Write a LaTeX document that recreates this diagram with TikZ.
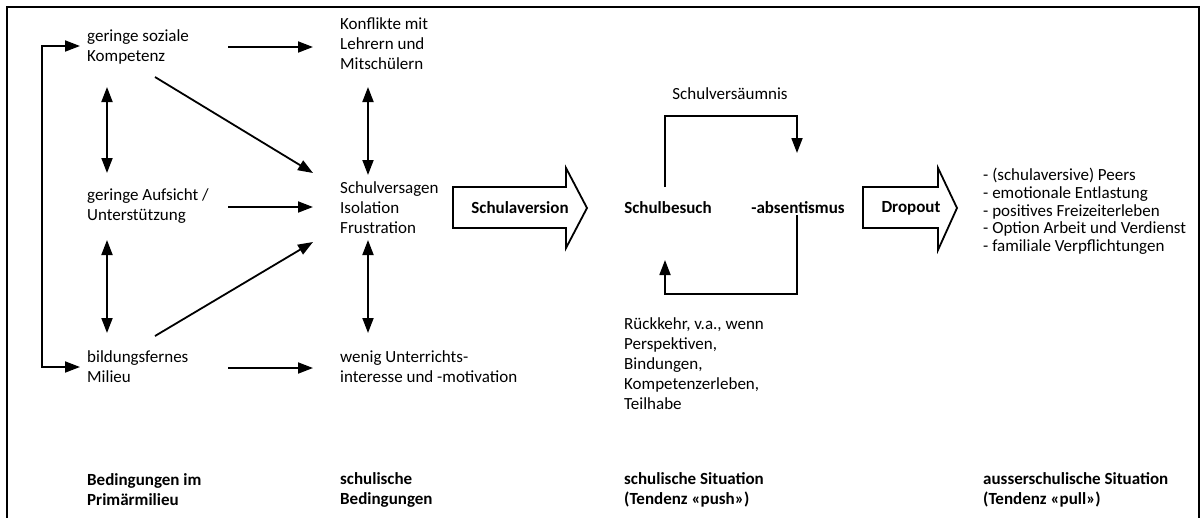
\documentclass[tikz,border=0pt]{standalone}
\usepackage{fontspec}
\setmainfont{Carlito}
\usetikzlibrary{arrows.meta,calc}
\tikzset{
  txt/.style={font=\fontsize{17}{20}\selectfont, inner sep=0pt, align=left, anchor=west},
  lbl/.style={txt, font=\fontsize{17}{20}\selectfont\bfseries},
  con/.style={line width=1.8pt, -{Triangle[length=15pt,width=11pt]}},
  dcon/.style={line width=1.8pt, {Triangle[length=15pt,width=11pt]}-{Triangle[length=15pt,width=11pt]}},
  blk/.style={draw, line width=1.8pt, fill=white, line join=miter},
  frame/.style={line width=1.8pt}
}
\begin{document}
\begin{tikzpicture}[x=1pt,y=-1pt]
\useasboundingbox (0,0) rectangle (1202,517);
\fill[white] (0,0) rectangle (1202,517);
\draw[frame] (7,540) -- (7,7) -- (1199,7) -- (1199,540);

% column 1
\node[txt] (gsk) at (87,47) {geringe soziale\\Kompetenz};
\node[txt] (gau) at (87,206) {geringe Aufsicht /\\Unterstützung};
\node[txt] (bfm) at (87,367) {bildungsfernes\\Milieu};
% column 2
\node[txt] (kon) at (340,44) {Konflikte mit\\Lehrern und\\Mitschülern};
\node[txt] (sv) at (340,208) {Schulversagen\\Isolation\\Frustration};
\node[txt] (wu) at (340,367) {wenig Unterrichts-\\interesse und -motivation};
% column 3
\node[txt, anchor=center] (svm) at (730,94) {Schulversäumnis};
\node[lbl, anchor=center] (sbs) at (668,208) {Schulbesuch};
\node[lbl, anchor=center] (abs) at (798,208) {-absentismus};
\node[txt] (rk) at (624,364) {Rückkehr, v.a., wenn\\Perspektiven,\\Bindungen,\\Kompetenzerleben,\\Teilhabe};
% column 4
\node[txt, font=\fontsize{17}{17.7}\selectfont] (pull) at (983,211.5) {- (schulaversive) Peers\\- emotionale Entlastung\\- positives Freizeiterleben\\- Option Arbeit und Verdienst\\- familiale Verpflichtungen};
% bottom labels
\node[lbl] (bp) at (87,490) {Bedingungen im\\Primärmilieu};
\node[lbl] (sb) at (340,490) {schulische\\Bedingungen};
\node[lbl] (ss) at (624,490) {schulische Situation\\(Tendenz «push»)};
\node[lbl] (as) at (983,490) {ausserschulische Situation\\(Tendenz «pull»)};

% block arrows
\draw[blk] (453,187) -- (566,187) -- (566,168) -- (587,208) -- (566,248) -- (566,228) -- (453,228) -- cycle;
\node[lbl, anchor=center] (sa) at (520,208) {Schulaversion};
\draw[blk] (863,187) -- (938,187) -- (938,168) -- (957,208) -- (938,250) -- (938,228) -- (863,228) -- cycle;
\node[lbl, anchor=center] (dr) at (911,208) {Dropout};

% left feedback line
\draw[dcon] ($(gsk.west)+(-7,-1)$) -- ++(-38,0) |- ($(bfm.west)+(-7,0)$);
% vertical double arrows column 1
\draw[dcon] ($(gsk.west)+(20,40)$) -- ($(gau.west)+(20,-33)$);
\draw[dcon] ($(gau.west)+(20,34)$) -- ($(bfm.west)+(20,-34)$);
% horizontal arrows
\draw[con] ($(gsk.west)+(141,0)$) -- ($(kon.west |- gsk.west)+(-27,0)$);
\draw[con] ($(gau.west)+(141,1)$) -- ($(sv.west |- gau.west)+(-27,1)$);
\draw[con] ($(bfm.west)+(141,1)$) -- ($(wu.west |- bfm.west)+(-27,1)$);
% diagonals
\draw[con] ($(gsk.west)+(68,30)$) -- ($(sv.west)+(-27,-35)$);
\draw[con] ($(bfm.west)+(68,-31)$) -- ($(sv.west)+(-27,34)$);
% vertical double arrows column 2
\draw[dcon] ($(kon.west)+(28,43)$) -- ($(sv.west)+(28,-33)$);
\draw[dcon] ($(sv.west)+(28,32)$) -- ($(wu.west)+(28,-34)$);
% loop
\draw[con] ($(sbs.center)+(-3,-21)$) -- ++(0,-71) -| ($(abs.center)+(-1,-55)$);
\draw[con] ($(abs.center)+(-1,7)$) -- ++(0,79) -| ($(sbs.center)+(-3,52)$);
\end{tikzpicture}
\end{document}
